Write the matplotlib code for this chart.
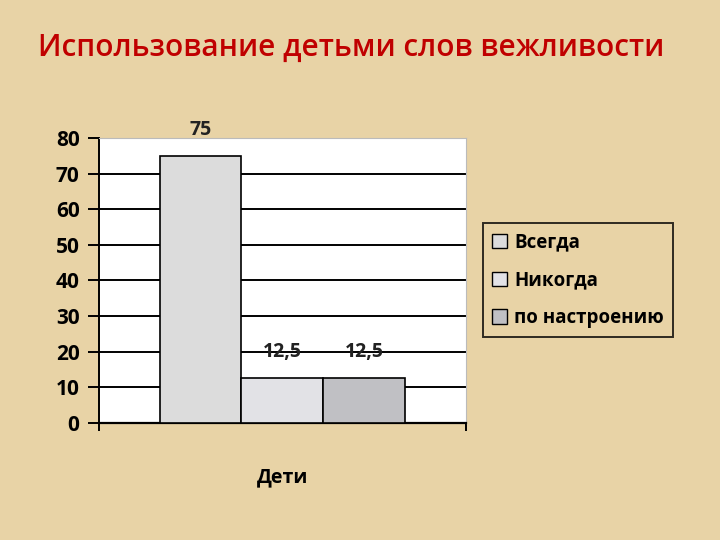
import matplotlib
matplotlib.use("Agg")
import matplotlib.pyplot as plt
from matplotlib.patches import Patch

plt.rcParams['font.family'] = ['Open Sans', 'DejaVu Sans']

# данные
title = "Использование детьми слов вежливости"
category = "Дети"
series_names = ["Всегда", "Никогда", "по настроению"]
series_values = [75, 12.5, 12.5]
value_labels = ["75", "12,5", "12,5"]
series_colors = ["#DCDCDC", "#E2E2E6", "#C0C0C4"]
yticks = [0, 10, 20, 30, 40, 50, 60, 70, 80]

bg = "#E8D3A6"

fig = plt.figure(figsize=(7.2, 5.4), dpi=100, facecolor=bg)
fig.text(0.488, 0.912, title, ha="center", va="center", fontsize=21.4,
         color="#C00000", fontweight="semibold")

ax = fig.add_axes([0.1375, 0.2167, 0.5097, 0.5278])
ax.set_facecolor("white")

bar_w = 0.2234
for i, (name, val, lab, col) in enumerate(zip(series_names, series_values, value_labels, series_colors)):
    xc = 0.5 + (i - 1) * bar_w
    ax.bar(xc, val, width=bar_w, color=col, edgecolor="black", linewidth=1.2, zorder=3)
    ax.text(xc, val + 4.5, lab, ha="center", va="bottom", fontsize=14,
            fontweight="bold", color="#222222", zorder=4)

ax.set_xlim(0, 1)
ax.set_ylim(0, 80)
ax.set_yticks(yticks)
ax.set_yticklabels([str(t) for t in yticks], fontsize=15, fontweight="bold")
ax.yaxis.grid(True, color="black", linewidth=1.4, zorder=1)
ax.set_axisbelow(True)
ax.tick_params(axis="y", direction="out", length=8, width=1.4, pad=6)

ax.set_xticks([0, 1])
ax.set_xticklabels(["", ""])
ax.tick_params(axis="x", direction="out", length=6, width=1.4)
ax.text(0.5, -0.19, category, transform=ax.transAxes, ha="center", va="center",
        fontsize=14, fontweight="bold")

ax.spines["left"].set_linewidth(1.4)
ax.spines["bottom"].set_linewidth(1.6)
ax.spines["top"].set_color("#BBBBBB")
ax.spines["right"].set_color("#BBBBBB")

handles = [Patch(facecolor=c, edgecolor="black", linewidth=1.0) for c in series_colors]
leg = fig.legend(handles, series_names, loc="upper left",
                 bbox_to_anchor=(0.671, 0.587), frameon=True, fancybox=False,
                 prop={"size": 13.5, "weight": "bold"}, handlelength=0.8,
                 handleheight=0.8, handletextpad=0.35, labelspacing=0.95,
                 borderpad=0.5, borderaxespad=0)
leg.get_frame().set_facecolor("none")
leg.get_frame().set_edgecolor("black")
leg.get_frame().set_linewidth(1.4)

fig.savefig("out.png", dpi=100, facecolor=bg)
